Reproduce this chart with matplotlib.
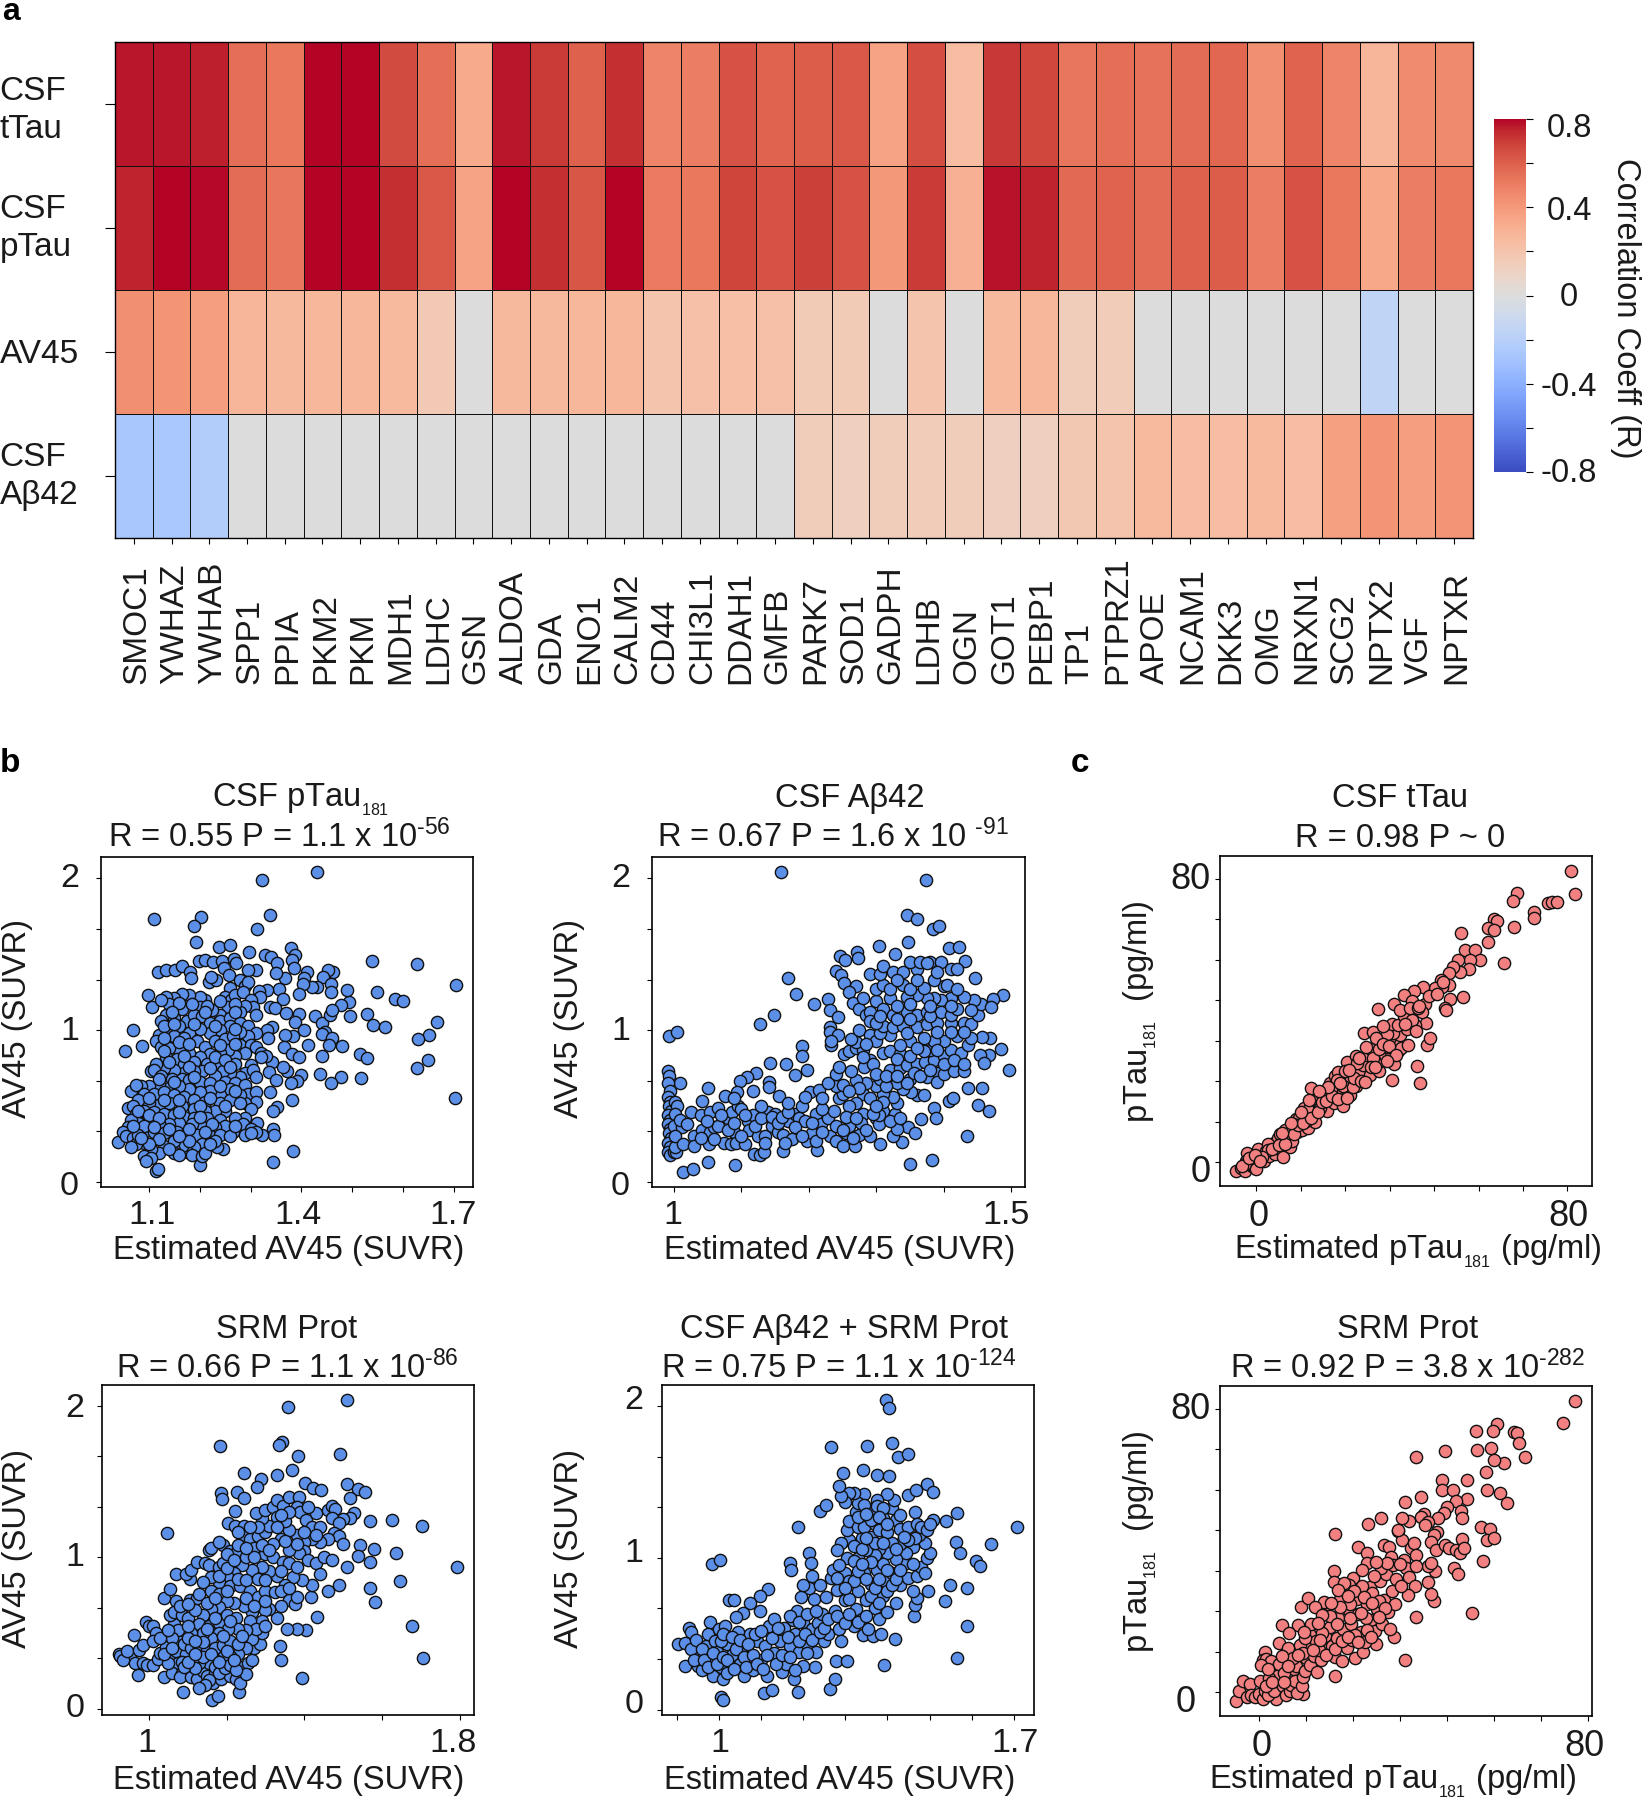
import matplotlib
matplotlib.use("Agg")
import matplotlib.pyplot as plt
from matplotlib.transforms import ScaledTranslation
import numpy as np

plt.rcParams['font.family'] = ['Liberation Sans', 'DejaVu Sans']
plt.rcParams['mathtext.fontset'] = 'custom'
plt.rcParams['mathtext.rm'] = 'Liberation Sans'
plt.rcParams['mathtext.default'] = 'regular'
plt.rcParams['text.color'] = '#1a1a1a'
plt.rcParams['axes.labelcolor'] = '#1a1a1a'

W, H = 1643, 1800

# heatmap
genes = ["SMOC1","YWHAZ","YWHAB","SPP1","PPIA","PKM2","PKM","MDH1","LDHC","GSN","ALDOA","GDA","ENO1","CALM2",
         "CD44","CHI3L1","DDAH1","GMFB","PARK7","SOD1","GADPH","LDHB","OGN","GOT1","PEBP1","TP1","PTPRZ1",
         "APOE","NCAM1","DKK3","OMG","NRXN1","SCG2","NPTX2","VGF","NPTXR"]
rows = ["CSF\ntTau", "CSF\npTau", "AV45", "CSF\nAβ42"]
r_ttau = [.77,.77,.76,.55,.52,.8,.8,.66,.55,.33,.77,.7,.6,.73,.48,.5,.64,.59,.61,.62,.36,.65,.24,.71,.67,.53,.55,.54,.56,.58,.44,.59,.48,.28,.45,.46]
r_ptau = [.75,.8,.79,.56,.53,.8,.8,.73,.62,.36,.8,.73,.63,.8,.51,.52,.68,.64,.69,.64,.4,.7,.3,.78,.75,.57,.59,.56,.6,.61,.5,.64,.52,.34,.5,.52]
r_av45 = [.44,.42,.38,.28,.26,.27,.27,.25,.17,0,.26,.26,.27,.27,.2,.22,.23,.22,.16,.16,0,.2,0,.25,.27,.14,.15,0,0,0,0,0,0,-.16,0,0]
r_ab42 = [-.27,-.26,-.22,0,0,0,0,0,0,0,0,0,0,0,0,0,0,0,.14,.13,.14,.15,.14,.13,.13,.18,.2,.25,.24,.24,.25,.24,.37,.42,.38,.42]

# scatter b, CSF pTau181: x estimated AV45, y AV45
pts_ptau = [(1.43,2.04),(1.322,1.99),(1.111,1.735),(1.203,1.743),(1.19,1.684),(1.339,1.759),(1.312,1.669),(1.192,1.581),(1.238,1.546),(1.259,1.559),(1.296,1.513),(1.38,1.542),(1.388,1.493),(1.329,1.493),(1.341,1.482),(1.382,1.46),(1.386,1.408),(1.352,1.439),(1.538,1.458),(1.627,1.436),(1.703,1.296),(1.549,1.248),(1.584,1.202),(1.599,1.193),(1.528,1.105),(1.54,1.035),(1.564,1.018),(1.665,1.055),(1.651,.965),(1.629,.943),(1.649,.803),(1.626,.748),(1.701,.55),(1.514,.846),(1.529,.818),(1.516,.682),(1.478,.689),(1.457,.649),(1.437,.711),(1.479,.895),(1.496,1.096),(1.494,1.184),(1.489,1.263),(1.477,1.164),(1.461,1.384),(1.452,1.399),(1.443,1.351),(1.458,1.307),(1.458,1.252),(1.43,1.281),(1.42,1.285),(1.41,1.382),(1.405,1.346),(1.403,1.303),(1.395,1.241),(1.367,1.344),(1.349,1.373),(1.31,1.399),(1.295,1.395),(1.355,1.27),(1.332,1.263),(1.316,1.257),(1.319,1.215),(1.363,1.208),(1.339,1.154),(1.348,1.143),(1.37,1.11),(1.395,1.103),(1.388,1.055),(1.427,1.092),(1.44,1.044),(1.455,1.099),(1.46,1.132),(1.404,1.0),(1.446,.989),(1.441,.974),(1.459,.945),(1.453,.901),(1.412,.901),(1.384,.961),(1.368,.967),(1.343,1.022),(1.332,1.0),(1.334,.945),(1.365,.89),(1.381,.846),(1.396,.82),(1.44,.829),(1.399,.704),(1.392,.664),(1.379,.649),(1.371,.732),(1.363,.759),(1.342,.792),(1.337,.726),(1.35,.671),(1.339,.594),(1.382,.537),(1.352,.496),(1.345,.469),(1.345,.346),(1.347,.309),(1.384,.206),(1.345,.129),(1.322,.309),(1.312,.386),
 (1.099,1.23),(1.107,1.154),(1.069,1.004),(1.054,.864),(1.086,.897),(1.039,.263),(1.118,1.386),(1.134,1.399),(1.151,1.395),(1.165,1.423),(1.182,1.384),(1.183,1.34),(1.199,1.456),(1.211,1.46),(1.227,1.45),(1.244,1.454),(1.267,1.471),(1.272,1.445),(1.248,1.412),(1.257,1.362),(1.218,1.318),(1.233,1.329),(1.222,1.351),
 (1.28,1.33),(1.29,1.29),(1.295,1.32),(1.26,1.28),(1.25,1.22),(1.262,1.2),(1.27,1.23),(1.285,1.25),(1.3,1.2),(1.305,1.15),(1.31,1.1),(1.29,1.16),(1.28,1.12),(1.255,1.15),(1.24,1.1),(1.225,1.13),(1.21,1.2),(1.2,1.22),(1.2,1.15),(1.18,1.23),(1.165,1.235),(1.15,1.21),(1.135,1.22),(1.14,1.17),(1.165,1.14),(1.135,1.1),(1.15,1.08),(1.125,1.06),(1.175,1.06),(1.19,1.1),(1.205,1.09),(1.22,1.05),(1.24,1.06),(1.26,1.08),(1.28,1.05),(1.295,1.03),(1.31,.98),(1.295,.96),(1.28,.99),(1.26,1.03),(1.24,1.0),(1.22,.98),(1.2,1.01),(1.18,.98),(1.16,1.03),(1.14,1.01),(1.12,.97),(1.115,.93),(1.125,.89),(1.15,.96),(1.17,.95),(1.195,.93),(1.21,.89),(1.23,.93),(1.25,.94),(1.265,.96),(1.28,.9),(1.3,.9),(1.31,.89),(1.32,.85),(1.33,.83),(1.32,.82),(1.29,.85),(1.27,.83),(1.255,.87),(1.24,.85),(1.22,.84),(1.2,.82),(1.18,.85),(1.16,.87),(1.14,.88),(1.135,.82),(1.155,.81),(1.17,.78),(1.19,.79),(1.215,.78),(1.24,.78),(1.27,.78),(1.3,.77),(1.29,.72),(1.305,.74),(1.31,.69),(1.28,.69),(1.26,.72),(1.245,.73),(1.23,.7),(1.205,.73),(1.19,.73),(1.17,.72),(1.15,.74),(1.13,.75),(1.115,.78),(1.105,.73),(1.11,.74),(1.125,.7),(1.145,.68),(1.165,.68),(1.18,.67),(1.2,.66),(1.22,.65),(1.25,.66),(1.27,.65),(1.29,.64),(1.295,.58),(1.31,.59),(1.31,.53),(1.29,.52),(1.28,.57),(1.26,.61),(1.24,.57),(1.22,.6),(1.2,.59),(1.18,.61),(1.16,.63),(1.14,.62),(1.12,.64),(1.1,.63),(1.085,.63),(1.065,.6),(1.075,.64),(1.09,.58),(1.11,.58),(1.13,.59),(1.15,.57),(1.17,.56),(1.19,.54),(1.21,.53),(1.24,.52),(1.26,.54),(1.28,.52),(1.3,.48),(1.29,.42),(1.25,.47),(1.23,.47),(1.21,.47),(1.19,.48),(1.165,.5),(1.14,.52),(1.12,.51),(1.1,.52),(1.08,.54),(1.06,.49),(1.07,.5),(1.075,.45),(1.09,.47),(1.11,.46),(1.13,.45),(1.15,.44),(1.17,.43),(1.19,.42),(1.215,.42),(1.24,.41),(1.27,.42),(1.285,.38),(1.3,.35),(1.265,.33),(1.25,.37),(1.23,.36),(1.205,.36),(1.185,.38),(1.16,.39),(1.14,.38),(1.12,.39),(1.1,.41),(1.08,.39),(1.065,.41),(1.06,.36),(1.075,.35),(1.05,.33),(1.055,.3),(1.07,.29),(1.09,.33),(1.11,.33),(1.13,.32),(1.155,.33),(1.175,.32),(1.195,.31),(1.22,.3),(1.24,.31),(1.26,.3),(1.29,.31),(1.31,.33),(1.3,.32),(1.245,.22),(1.235,.23),(1.23,.27),(1.205,.25),(1.19,.23),(1.175,.2),(1.165,.24),(1.15,.21),(1.13,.24),(1.12,.19),(1.105,.22),(1.09,.26),(1.075,.25),(1.065,.23),(1.09,.17),(1.105,.16),(1.115,.07),(1.118,.085),(1.095,.14),(1.15,.19),(1.16,.18),(1.185,.18),(1.2,.11),(1.205,.17),(1.21,.19),
 (1.125,1.2),(1.16,1.18),(1.185,1.17),(1.215,1.16),(1.24,1.19),(1.27,1.17),(1.145,1.12),(1.21,1.12),(1.27,1.12),(1.13,1.03),(1.15,1.04),(1.19,1.04),(1.23,1.03),(1.27,1.01),(1.13,.95),(1.16,.92),(1.18,.91),(1.24,.9),(1.27,.91),(1.13,.86),(1.17,.83),(1.23,.82),(1.25,.8),(1.12,.68),(1.14,.79),(1.18,.76),(1.22,.75),(1.26,.76),(1.15,.66),(1.19,.69),(1.24,.63),(1.27,.6),(1.13,.54),(1.16,.54),(1.2,.5),(1.22,.55),(1.25,.5),(1.1,.55),(1.08,.47),(1.1,.44),(1.12,.42),(1.16,.46),(1.2,.43),(1.225,.38),(1.27,.37),(1.09,.37),(1.11,.36),(1.14,.35),(1.18,.35),(1.21,.33),(1.08,.31),(1.12,.28),(1.15,.27),(1.18,.27),(1.22,.25),(1.1,.25),(1.14,.22),(1.07,.37),(1.085,.29),(1.16,.3)]

# scatter b, CSF Ab42
pts_ab42 = [(1.159,2.04),(1.373,1.99),(1.345,1.757),(1.36,1.735),(1.384,1.669),(1.392,1.684),(1.347,1.581),(1.304,1.557),(1.407,1.542),(1.422,1.546),(1.271,1.515),(1.273,1.478),(1.246,1.491),(1.253,1.46),(1.328,1.498),(1.431,1.456),(1.17,1.346),(1.181,1.241),(1.208,1.175),(1.229,1.208),(1.149,1.099),(1.128,1.039),(.993,.961),(1.005,.989),(1.231,1.132),(1.243,1.088),(1.231,1.02),(1.231,.99),(1.243,.97),(1.233,.9),(1.233,.93),(1.487,1.23),(1.473,1.208),(1.496,.737),(1.485,.879),(1.468,.945),(1.456,.956),(1.467,.836),(1.454,.836),(1.459,.785),(1.446,1.34),(1.456,.616),(1.436,.616),(1.451,.507),(1.467,.469),(1.434,.303),(1.382,.145),(1.35,.116),(1.347,.364),(1.357,.32),(1.338,.265),(1.366,.412),(1.386,.485),(1.388,.419),(1.407,.535),(1.413,.55),(1.36,.57),(1.37,.57),(1.352,.59),
 (1.014,.064),(1.028,.086),(1.051,.129),(1.091,.114),(1.119,.184),(1.128,.18),(1.134,.197),(1.162,.206),(1.212,.21),(1.142,.785),(1.167,.776),(1.19,.895),(1.19,.829),(1.197,.737),(1.179,.704),(1.122,.715),(1.109,.693),(1.098,.664),(1.141,.66),(1.141,.627),(1.051,.616),(1.009,.654),(1.042,.535),(1.076,.566),(1.094,.594),(1.117,.599),(1.156,.566),(1.202,.594),(1.215,.605),
 (.992,.73),(.993,.7),(.992,.65),(.994,.6),(.992,.56),(.995,.53),(.993,.5),(.996,.47),(.992,.44),(.994,.41),(.992,.38),(.995,.35),(.993,.32),(.996,.29),(.992,.26),(.995,.23),(.992,.2),(.995,.175),(1.0,.2),(1.003,.2),(1.002,.23),(1.002,.53),(1.005,.5),(1.002,.45),(1.0,.37),(1.012,.36),(1.002,.3),(1.014,.25),(1.03,.3),(1.026,.46),(1.04,.44),(1.054,.46),(1.042,.34),(1.054,.33),(1.052,.25),(1.06,.36),(1.065,.37),(1.05,.4),(1.066,.49),(1.075,.26),(1.085,.25),(1.08,.42),(1.086,.46),(1.09,.33),(1.092,.26),(1.095,.5),(1.1,.48),(1.105,.25),(1.11,.4),(1.112,.34),(1.118,.44),(1.125,.3),(1.135,.3),(1.14,.46),(1.145,.37),(1.15,.45),(1.155,.33),(1.162,.31),(1.17,.4),(1.175,.28),(1.18,.45),(1.185,.42),(1.19,.5),(1.198,.27),(1.195,.4),(1.205,.32),(1.21,.45),(1.218,.38),(1.228,.42),(1.232,.3),(1.24,.27),(1.25,.24),(1.238,.47),(1.245,.55),(1.255,.32),(1.26,.37),(1.268,.24),(1.275,.31),(1.28,.45),(1.278,.39),(1.29,.3),(1.3,.42),(1.304,.38),(1.306,.25),(1.31,.47),(1.325,.3),(1.33,.35),(1.328,.45),(1.33,.52),(1.34,.61),(1.325,.56),(1.31,.58),(1.31,.53),(1.304,.44),(1.28,.58),(1.29,.55),(1.27,.52),(1.26,.5),(1.25,.58),(1.24,.63),(1.228,.65),(1.25,.64),(1.3,.63),(1.305,.68),(1.285,.65),(1.27,.67),(1.262,.73),(1.24,.71),(1.245,.76),(1.252,.84),(1.26,.86),(1.27,.88),(1.28,.87),(1.27,.92),(1.262,.94),(1.275,1.0),(1.29,.97),(1.3,.93),(1.29,.8),(1.282,.76),(1.295,.78),(1.32,.74),(1.335,.75),(1.31,.85),(1.32,.86),(1.335,.84),(1.33,.81),(1.345,.77),(1.36,.78),(1.372,.79),(1.385,.8),(1.39,.72),(1.375,.69),(1.35,.68),(1.355,.72),(1.33,.65),(1.345,.65),(1.39,.66),(1.4,.71),(1.415,.73),(1.43,.73),(1.4,.83),(1.38,.87),(1.37,.86),(1.41,.87),(1.425,.85),(1.435,.9),(1.44,.95),(1.42,.96),(1.4,.93),(1.385,.93),(1.37,.95),(1.35,.93),(1.335,.9),(1.32,.97),(1.305,.98),(1.31,1.03),(1.325,1.02),(1.34,1.03),(1.36,1.02),(1.375,1.04),(1.39,1.05),(1.41,1.05),(1.43,1.05),(1.44,1.04),(1.45,1.1),(1.455,1.17),(1.47,1.15),(1.445,1.2),(1.43,1.22),(1.41,1.21),(1.395,1.2),(1.385,1.21),(1.375,1.21),(1.36,1.23),(1.345,1.22),(1.32,1.21),(1.3,1.19),(1.31,1.14),(1.325,1.1),(1.345,1.12),(1.36,1.1),(1.375,1.12),(1.395,1.12),(1.41,1.1),(1.3,1.27),(1.31,1.3),(1.34,1.3),(1.35,1.27),(1.37,1.28),(1.4,1.29),(1.405,1.3),(1.29,1.37),(1.305,1.37),(1.31,1.42),(1.325,1.38),(1.34,1.38),(1.36,1.4),(1.38,1.45),(1.395,1.45),(1.41,1.4),(1.42,1.4),(1.35,1.45),(1.365,1.45),(1.375,1.44),(1.24,1.39),(1.248,1.36),(1.252,1.31),(1.27,1.29),(1.26,1.25),(1.265,1.18),(1.275,1.14),(1.285,1.1),(1.29,1.12),
 (1.01,.41),(1.02,.38),(1.03,.24),(1.04,.29),(1.06,.28),(1.07,.44),(1.08,.34),(1.09,.39),(1.1,.3),(1.105,.44),(1.12,.37),(1.13,.42),(1.135,.26),(1.145,.43),(1.155,.39),(1.16,.43),(1.165,.26),(1.17,.46),(1.18,.36),(1.19,.3),(1.205,.39),(1.21,.27),(1.22,.48),(1.22,.33),(1.24,.37),(1.25,.34),(1.255,.43),(1.265,.29),(1.27,.42),(1.285,.34),(1.295,.45),(1.3,.5),(1.32,.4),(1.335,.42),(1.315,.63),(1.275,.62),(1.26,.6),(1.3,.71),(1.315,.7),(1.33,.7),(1.365,.7),(1.38,.74),(1.4,.78),(1.35,.83),(1.36,.88),(1.39,.87),(1.415,.8),(1.43,.78),(1.345,.98),(1.39,.99),(1.41,.99),(1.43,.99),(1.33,1.07),(1.35,1.07),(1.38,1.09),(1.42,1.14),(1.44,1.13),(1.33,1.16),(1.35,1.17),(1.38,1.16),(1.41,1.16),(1.32,1.27),(1.33,1.33),(1.36,1.33),(1.385,1.33),(1.42,1.27),(1.28,1.21),(1.29,1.06),(1.3,1.05),(1.305,1.09),(1.39,1.38),(1.285,.91),(1.28,.82),(1.22,.55),(1.195,.56),(1.17,.52),(1.13,.5),(1.09,.55)]

# scatter b, SRM Prot
pts_srm = [(1.509,2.04),(1.359,1.99),(1.184,1.734),(1.342,1.763),(1.335,1.741),(1.383,1.668),(1.491,1.68),(1.369,1.576),(1.246,1.554),(1.329,1.543),(1.289,1.515),(1.278,1.467),(1.402,1.488),(1.423,1.456),(1.443,1.445),(1.509,1.482),(1.538,1.451),(1.556,1.434),(1.517,1.394),(1.527,1.295),(1.517,1.258),(1.5,1.254),(1.568,1.24),(1.625,1.245),(1.703,1.207),(1.047,1.164),(1.544,1.082),(1.58,1.054),(1.636,1.032),(1.568,.973),(1.509,.94),(1.792,.94),(1.538,1.012),(1.646,.845),(1.57,.799),(1.582,.709),(1.489,.819),(1.46,.779),(1.417,.742),(1.433,.61),(1.677,.549),(1.706,.338),(1.403,.522),(1.38,.529),(1.356,.527),(1.338,.417),(1.34,.325),(1.395,.204),
 (.923,.364),(.953,.342),(.962,.49),(.994,.577),(.973,.226),(1.04,.209),(1.087,.11),(1.163,.061),(1.179,.083),(1.231,.11),(1.185,1.423),(1.188,1.383),(1.226,1.434),(1.246,1.39),(1.221,1.308),(1.203,1.225),(1.222,1.205),(1.245,1.21),
 (.925,.35),(.935,.32),(.945,.38),(.965,.3),(.975,.39),(.985,.42),(.985,.3),(1.0,.55),(1.01,.55),(1.02,.5),(1.01,.45),(.995,.29),(1.01,.29),(1.025,.33),(1.03,.37),(1.045,.41),(1.055,.34),(1.07,.38),(1.075,.3),(1.06,.24),(1.085,.24),(1.1,.26),(1.08,.21),(1.11,.21),(1.125,.2),(1.14,.25),(1.15,.22),(1.165,.17),(1.17,.24),(1.185,.2),(1.2,.28),(1.21,.22),(1.225,.2),(1.24,.28),(1.255,.3),(1.265,.32),(1.235,.17),(1.25,.23),(1.27,.4),(1.285,.43),(1.29,.5),(1.265,.46),(1.25,.4),(1.23,.36),(1.21,.35),(1.19,.34),(1.17,.32),(1.155,.3),(1.13,.3),(1.115,.33),(1.095,.36),(1.085,.31),(1.075,.45),(1.065,.56),(1.055,.62),(1.04,.73),(1.055,.79),(1.07,.71),(1.065,.64),(1.085,.62),(1.1,.6),(1.105,.72),(1.125,.73),(1.13,.76),(1.105,.86),(1.07,.89),(1.095,.89),(1.11,.92),(1.125,.97),(1.145,.96),(1.155,.95),(1.18,.94),(1.19,.96),(1.155,1.05),(1.16,1.06),(1.19,1.08),(1.21,1.04),(1.225,1.03),(1.18,1.1),(1.2,1.02),(1.24,1.15),(1.23,1.17),(1.26,1.12),(1.27,1.06),(1.28,1.14),(1.3,1.17),(1.31,1.21),(1.29,1.26),(1.275,1.29),(1.3,1.31),(1.32,1.33),(1.33,1.38),(1.345,1.34),(1.36,1.4),(1.385,1.4),(1.38,1.33),(1.39,1.3),(1.405,1.25),(1.42,1.2),(1.44,1.2),(1.43,1.29),(1.46,1.31),(1.47,1.34),(1.48,1.32),(1.47,1.26),(1.49,1.23),(1.475,1.16),(1.49,1.14),(1.5,1.09),(1.46,1.12),(1.44,1.1),(1.42,1.12),(1.4,1.1),(1.4,1.04),(1.38,1.15),(1.36,1.18),(1.35,1.24),(1.33,1.27),(1.34,1.12),(1.32,1.09),(1.3,1.02),(1.32,1.0),(1.345,.97),(1.36,.96),(1.385,1.03),(1.41,.98),(1.43,.96),(1.45,1.0),(1.47,.98),(1.44,.89),(1.42,.82),(1.395,.85),(1.37,.87),(1.35,.82),(1.33,.88),(1.31,.91),(1.29,.94),(1.265,.92),(1.24,.95),(1.22,.9),(1.2,.88),(1.18,.84),(1.16,.87),(1.14,.84),(1.16,.78),(1.18,.76),(1.21,.81),(1.235,.81),(1.26,.78),(1.28,.74),(1.3,.78),(1.325,.77),(1.36,.72),(1.375,.69),(1.38,.74),(1.34,.68),(1.31,.66),(1.3,.65),(1.29,.58),(1.265,.64),(1.245,.68),(1.22,.7),(1.2,.71),(1.18,.67),(1.16,.66),(1.14,.62),(1.12,.65),(1.13,.56),(1.155,.55),(1.18,.57),(1.2,.62),(1.225,.6),(1.26,.58),(1.275,.53),(1.3,.55),(1.33,.6),(1.25,.52),(1.23,.53),(1.205,.53),(1.18,.5),(1.16,.47),(1.14,.5),(1.11,.5),(1.09,.52),(1.075,.52),(1.06,.47),(1.09,.43),(1.11,.4),(1.13,.41),(1.15,.39),(1.17,.4),(1.19,.42),(1.21,.45),(1.23,.43),(1.12,.27),(1.14,.34),(1.17,.28),(1.18,.24),(1.195,.27),(1.155,.19),(1.145,.16),(1.13,.14),(1.21,.29),(1.225,.26),
 (1.05,.3),(1.04,.36),(1.06,.4),(1.03,.47),(1.05,.52),(1.09,.28),(1.1,.31),(1.12,.36),(1.14,.44),(1.16,.36),(1.18,.31),(1.2,.38),(1.22,.32),(1.1,.47),(1.12,.45),(1.15,.53),(1.17,.6),(1.19,.48),(1.21,.58),(1.24,.48),(1.1,.55),(1.08,.68),(1.1,.69),(1.15,.7),(1.17,.73),(1.2,.78),(1.25,.73),(1.27,.68),(1.3,.71),(1.18,.88),(1.23,.86),(1.25,.85),(1.28,.86),(1.3,.85),(1.34,.78),(1.36,.8),(1.2,.93),(1.22,.98),(1.25,1.0),(1.27,1.0),(1.34,.91),(1.38,.94),(1.23,1.08),(1.25,1.06),(1.29,1.08),(1.31,1.05),(1.36,1.05),(1.38,1.09),(1.28,1.2),(1.33,1.2),(1.35,1.11),(1.4,1.17),(1.43,1.15),(1.41,1.33),(1.36,1.3),(1.34,1.28),(1.26,1.2)]

# scatter b, CSF Ab42 + SRM Prot
pts_both = [(1.396,2.04),(1.405,1.989),(1.266,1.732),(1.351,1.739),(1.411,1.757),(1.426,1.667),(1.45,1.682),(1.343,1.579),(1.295,1.557),(1.375,1.546),(1.404,1.539),(1.493,1.485),(1.509,1.434),(1.448,1.414),(1.469,1.447),(1.239,1.307),(1.254,1.349),(1.189,1.206),(1.509,1.25),(1.539,1.243),(1.566,1.294),(1.707,1.206),(1.646,1.092),(1.562,1.101),(1.573,1.031),(1.611,.976),(1.619,.943),(1.549,.822),(1.589,.8),(1.536,.713),(1.589,.548),(1.565,.338),(1.393,.296),(1.418,.465),(1.463,.614),(1.466,.691),(1.471,.735),(1.497,.783),(.983,.958),(1.002,.987),(1.169,.965),(1.171,.921),(1.215,1.031),(1.219,.965),(1.117,.796),(1.098,.746),(1.024,.719),(1.036,.719),(1.074,.702),(1.098,.647),(1.058,.636),(1.04,.61),(.979,.577),(.93,.537),(.933,.509),(.904,.432),(.919,.289),(1.006,.083),(1.009,.061),(1.108,.11),(1.126,.132),(1.187,.114),(1.264,.138),(1.276,.204),(1.278,.318),(1.303,.318),(1.227,.281),(1.179,.202),(1.343,.493),(1.367,.482),(1.385,.5),
 (.92,.44),(.935,.4),(.945,.46),(.955,.35),(.95,.29),(.96,.26),(.97,.42),(.975,.5),(.98,.32),(.985,.22),(.99,.45),(1.0,.53),(.995,.38),(1.005,.28),(1.01,.2),(1.015,.55),(1.02,.43),(1.03,.36),(1.02,.24),(1.045,.51),(1.05,.3),(1.055,.41),(1.06,.22),(1.07,.35),(1.075,.5),(1.08,.26),(1.09,.45),(1.1,.33),(1.11,.42),(1.115,.22),(1.12,.55),(1.13,.37),(1.13,.6),(1.145,.45),(1.15,.25),(1.155,.54),(1.16,.3),(1.17,.42),(1.175,.59),(1.18,.5),(1.19,.38),(1.185,.65),(1.2,.29),(1.2,.58),(1.21,.43),(1.22,.53),(1.23,.38),(1.225,.73),(1.215,.8),(1.195,.74),(1.2,.82),(1.22,.88),(1.235,.57),(1.24,.82),(1.245,.63),(1.25,.45),(1.255,.74),(1.26,.5),(1.265,.87),(1.27,.92),(1.275,.65),(1.28,.79),(1.285,.53),(1.29,.45),(1.295,.6),(1.3,.72),(1.3,.9),(1.305,1.0),(1.31,.85),(1.32,.55),(1.325,.66),(1.33,.78),(1.34,.6),(1.345,.9),(1.35,.72),(1.355,.53),(1.36,.83),(1.37,.67),(1.375,.92),(1.38,.6),(1.39,.75),(1.395,.85),(1.4,.64),(1.41,.9),(1.42,.7),(1.43,.82),(1.44,.96),(1.45,.87),(1.46,.78),(1.47,.88),(1.48,.94),(1.49,.9),(1.495,1.0),(1.5,1.03),(1.49,1.1),(1.475,1.15),(1.46,1.07),(1.445,1.03),(1.43,1.09),(1.42,.99),(1.41,1.1),(1.4,1.03),(1.39,.96),(1.38,1.06),(1.37,1.02),(1.36,.97),(1.35,1.05),(1.34,1.13),(1.33,1.0),(1.32,.98),(1.31,1.12),(1.305,1.18),(1.29,1.1),(1.28,1.05),(1.285,.95),(1.31,1.24),(1.325,1.3),(1.33,1.2),(1.345,1.2),(1.36,1.14),(1.37,1.22),(1.38,1.18),(1.39,1.26),(1.4,1.17),(1.41,1.33),(1.42,1.25),(1.43,1.19),(1.45,1.2),(1.465,1.3),(1.47,1.22),(1.465,1.13),(1.48,1.2),(1.495,1.18),(1.5,1.22),(1.415,1.38),(1.4,1.42),(1.375,1.38),(1.36,1.32),(1.345,1.42),(1.33,1.36),(1.32,1.43),(1.31,1.43),(1.3,1.37),(1.29,1.41),(1.285,1.47),(1.375,1.34),(1.36,1.25),(1.345,1.35),
 (.94,.33),(.96,.4),(.965,.33),(.975,.28),(.985,.37),(.995,.3),(1.005,.45),(1.01,.35),(1.01,.5),(1.02,.33),(1.03,.48),(1.035,.27),(1.04,.4),(1.05,.46),(1.06,.35),(1.065,.28),(1.07,.43),(1.08,.36),(1.085,.5),(1.09,.3),(1.1,.52),(1.105,.27),(1.115,.36),(1.125,.47),(1.135,.3),(1.14,.54),(1.15,.36),(1.165,.48),(1.17,.35),(1.18,.26),(1.19,.45),(1.205,.5),(1.21,.37),(1.22,.46),(1.24,.51),(1.25,.54),(1.17,.62),(1.19,.58),(1.21,.63),(1.23,.65),(1.26,.6),(1.28,.62),(1.3,.57),(1.31,.63),(1.31,.73),(1.33,.58),(1.35,.62),(1.36,.75),(1.38,.7),(1.4,.78),(1.41,.82),(1.42,.86),(1.32,.85),(1.33,.91),(1.35,.86),(1.37,.8),(1.38,.86),(1.4,.92),(1.43,.92),(1.46,.96),(1.28,.87),(1.3,.8),(1.34,.96),(1.37,1.1),(1.39,1.1),(1.42,1.06),(1.45,1.12),(1.32,1.08),(1.34,1.06),(1.33,1.27),(1.35,1.29),(1.39,1.33),(1.43,1.28),(1.38,1.27),(1.4,1.22),(1.35,1.13),(1.44,1.14)]

# scatter c, CSF tTau
pts_ttau = [(80.8,82.2),(81.9,75.6),(66.9,76),(66.1,73.6),(75.1,73.2),(76.1,73.5),(77.2,73.3),(71.3,70.6),(71.5,69),(66.2,66.4),(61.2,68.6),(61.8,68.1),(59.6,66.2),(61.2,65.5),(52.7,64.8),(59.5,62.2),(53.7,59.8),(56.2,59.8),(63.6,56.2),(57.4,57),(54.9,57),(51.8,57),(54.8,54.4),(52.4,53.6),(50.5,55.2),(49.6,53.3),(47.4,51.4),(49.6,50),(47.8,49.5),(45.9,49.3),(42.9,49.5),(53.2,46.5),(49.8,46.1),(48.4,43.6),(48.7,43),(40.5,48.3),(38,47.2),(40.1,45.6),(43.4,44.8),(31.4,43.2),(35.4,44.7),(27.6,36.6),(30,36.9),(34.8,23.1),(42,22.3),(41.4,27.3),(35.4,27.7),(44,33.1),(44.7,35),(43.6,39.4),(42.5,42.3),(39.6,40.8),(40.9,38.7),
 (-5.2,-2.4),(-4,-1.7),(-2.8,-2.5),(-2.5,2.7),(-2.6,.3),(-1.2,-1),(-.5,-1.4),(.3,.7),(1.2,2.2),(.5,3.9),(2,.5),(2.5,3.2),(3.2,1.7),(3.3,4.6),(4.5,5.6),(4.7,2.3),(5.3,4.2),(5.5,7),(6.4,3.5),(6.6,6.4),(6.8,1.6),(8,6.8),(8.2,9.1),(8.6,4.3),(9.2,6.1),(7.7,8),(10.2,12.1),(10.4,8.5),(11.4,10.5),(12.5,13),(11.7,9),(13.3,9.8),(13.6,13.5),(12.3,15.3),(14.7,16.8),(14.1,14.5),(15.2,11.3),(16,17.3),(17.4,15),(15.2,18.6),(16.8,19.2),(18.2,14.4),(18.6,18.9),(14.1,21),(19,22.3),(20.6,20.8),(20,16.7),(22.3,16),(21.6,19.1),(23.2,20.5),(24.2,19),(22.8,23.3),(20.2,24.3),(20.9,25.5),(25.7,21.6),(27.6,24),(28.4,27.1),(26.4,25.1),(24.2,27.8),(23.3,28.3),(25.6,30),(27.5,27.4),(29.2,24.7),(28.5,30.2),(31.5,25.7),(31.2,28.3),(32.3,30.8),(33.2,30.2),(29.4,32),(34.6,31.2),(36.5,31.3),(36,33.8),(34,34.8),(37,35.8),(37.2,32.2),(39,33.2),(38.7,37.7),(35.2,36.6),(33.5,36.2),(34.9,39.1),(32.7,38.4),(36.4,38.8),(38,41.2),(40,40.2),(41,37),(24.2,23),(22.4,21.5),(19.3,20.4),(17.5,19.1),(13.2,14.8),(11,12.6),(9.5,10.9),(6.1,8),(7.3,9.2),(2.9,5.3),(-1,.6),(-3,-.4),(0,-2),(3,3.4),(1.4,1.5),(12.9,11.6),(16.5,15.3),(20.7,23.1),(22.7,25.9),(26,28),(30,29.4),(33.8,32.6),
 (-3.6,-.9),(-1.8,1.2),(-.3,2.1),(1,.4),(4,3.9),(5.9,5),(7.5,5.3),(9.7,8),(10.8,10.6),(12.1,11),(14,12.5),(15.8,14.2),(17,16.9),(18,17.2),(19.5,18.7),(21,17.9),(23.3,18.1),(24.8,21.3),(25,23.9),(26.8,22.9),(28,22.7),(29.4,27),(30.5,26.9),(21.5,22.5),(18.5,21.3),(16.1,20.1),(13.5,17.6),(11.5,14.1),(8.9,11.2),(6.7,8.3),(23.8,26.1),(26.4,29.4),(28.2,32.4),(31.5,32.1),(30.7,35),(32.5,33.5),(34.2,32.9),(35.8,30.2),(33.5,28.5),(38.1,38.9),(37,43),(39.5,43.4),(41.5,43.5),(41.9,44),(44.5,47),(46.5,47.6),(48,50.9)]

# scatter c, SRM Prot
pts_srm_tau = [(76.7,82.2),(73.8,76),(57.9,75.6),(56.7,73.6),(52.7,73.7),(62,73.5),(62.6,73.2),(63.2,70.4),(64.5,66.4),(59.6,64.8),(56.3,69),(53,68.3),(57.1,65.5),(55.2,62.2),(55.4,57.2),(58.6,56.1),(60.2,53.5),(50.5,59.8),(50.5,54.4),(45.2,68),(38.2,66.4),(44.3,59.8),(44.5,57.2),(47.2,57),(47.9,54),(49.1,51.2),(49.2,49.3),(45.6,52.3),(44.9,50.7),(43.5,49.3),(39.2,55),(35.4,53.8),(40.1,50.2),(39.3,49.5),(41.1,48.1),(40.3,47.2),(36.5,48.3),(34.6,49.3),(29.6,49.1),(26.5,47.4),(18.3,44.8),(33.7,45.6),(43.2,45.3),(42.4,44.4),(41.7,42.5),(43,40.2),(45.1,41.6),(46,40.6),(47.9,40.2),(48.7,39.2),(49.3,43.2),(49.7,40.6),(53.9,46.5),(56,46.1),(55.4,43),(57.1,43.5),(54.5,37.1),(47.4,35.2),(48.4,33.3),(51.6,22.3),(38.1,21.2),(42.4,25.9),(41.8,27.8),(41,31.2),(42.6,34.1),(41.1,35.5),(41.8,36.6),(35.5,9),(32.7,15.6),(28.3,13.7),(18.3,4.5),(24.1,41.1),(26.2,39.2),(26.2,36.4),(30.4,41.6),(31.5,41.1),(34.8,43),(33.6,45.8),(36.9,40.8),(37.6,42),(38.2,38.7),(32,38.3),(35.2,37.3),(35.7,35),(38,35.6),(36.5,32.5),(37.8,30),(36.1,27.5),(18.2,34.1),(18.2,31),(22.8,32.2),(21.8,30.3),(5.4,18.9),(4.8,13.9),(1.3,11.5),(10.2,24.2),(11.9,26.5),(9.3,19),(7.3,16.7),(-5.6,-2.5),(-4.9,.3),(-3.9,3.1),(-2.2,2.3),(.1,3.1),(4.1,-1.9),(10.7,-.4),
 (-3,-1.2),(-2,-.8),(-1,-1.4),(0,-.5),(.9,-1.8),(1.3,.4),(2.2,-.8),(3,1.2),(3.5,.5),(3.9,3.1),(.8,9.2),(1.7,9.5),(2.8,8.9),(3.2,6.2),(4.3,4.6),(4.8,8),(5.8,1.8),(6.5,-.7),(6.9,4.3),(7.5,.3),(7.8,2.2),(8.5,6.5),(8.6,3.3),(9,7.3),(9.2,-.1),(10.3,1.8),(10.7,4.4),(11.1,6.1),(11.3,9.7),(11.8,13),(12.2,7.6),(12.8,16.9),(13.2,10.3),(13.8,14.6),(14.1,5.8),(14.7,18.2),(15,9.2),(15.5,12.4),(16,16),(16.4,22.1),(16.8,24.8),(17.1,18.4),(17.7,13.2),(18.3,10),(18.8,15.4),(19.1,21),(19.7,26.3),(20.2,8.9),(20.4,17.8),(21.2,12.5),(21.7,23.2),(22.3,19.4),(22.5,14.7),(23.3,9.7),(23.8,26.2),(24.1,22),(24.6,17),(25.2,11.4),(25.8,14.3),(26.1,24.9),(26.8,29.6),(27.2,20.5),(27.5,28.1),(28.2,17.4),(28.7,23.6),(29.4,31.5),(29.9,19.3),(30.2,26.1),(30.8,33.5),(31.3,22.6),(31.8,17.8),(32.3,28.5),(33,24.9),(33.3,31.9),(32.5,35.8),(34.2,36.2),(34.5,30),(29.5,35.2),(24.9,30.1),(20.6,30.8),(15.8,25.5),(13.4,24),(19,28.9),(6.9,12.6),(9.8,13.4),(12.5,19.4),(8.2,9.7),(10.5,11.1),(17.2,21.4),(22,25),(27.8,32.9),(24.9,34.4),(31,36.5),(28.3,36.8),(2.4,4),(5.9,5.5),(1.7,1.7),(15.2,16.8),(18.9,19.3),(26,20.9),(29.2,25.8),(23.2,16.1),(14.4,11.9),
 (5.5,10.2),(7,7.5),(3,3),(6,3),(.5,7.7),(2.2,6.5),(9.5,10.5),(11,15.2),(13,12),(14.8,14.8),(16.2,10.6),(18.5,12.3),(20,14.4),(21.5,15.7),(19.5,24),(22,20.9),(24,14.2),(26.2,17.7),(27.1,15.7),(23,28.5),(25.4,26.9),(27.3,25.2),(30.6,23.9),(15.3,21.7),(17.5,25.3),(21.6,27.2),(24.8,22.5),(29,21.2),(14.2,19.6),(10.9,16.9)]

panels = [
    {"pts": pts_ptau, "box": (101, 857, 473, 1187), "xlim": (1.0065, 1.7366), "ylim": (-.033, 2.14),
     "xticks": [1.1,1.2,1.3,1.4,1.5,1.6,1.7], "xtl": {1.1:"1.1",1.4:"1.4",1.7:"1.7"}, "yt": "b", "col": "#5b8fe8",
     "xs": {1.1:3, 1.4:-3, 1.7:-1}, "ys": {2:-3, 1:-2, 0:1}, "pad": 12.5},
    {"pts": pts_ab42, "box": (652, 857, 1025, 1187), "xlim": (.968, 1.52), "ylim": (-.033, 2.14),
     "xticks": [1,1.1,1.2,1.3,1.4,1.5], "xtl": {1:"1",1.5:"1.5"}, "yt": "b", "col": "#5b8fe8",
     "xs": {1:-1, 1.5:-5}, "ys": {2:-3, 1:-2, 0:1}, "pad": 12.5},
    {"pts": pts_srm, "box": (102, 1385, 474, 1715), "xlim": (.88, 1.836), "ylim": (-.04, 2.138),
     "xticks": [1,1.2,1.4,1.6,1.8], "xtl": {1:"1",1.8:"1.8"}, "yt": "b", "col": "#5b8fe8",
     "xs": {1:-2, 1.8:-7}, "ys": {2:-1, 1:-3, 0:-4}, "pad": 9},
    {"pts": pts_both, "box": (662, 1385, 1034, 1715), "xlim": (.865, 1.748), "ylim": (-.035, 2.138),
     "xticks": [.9,1,1.1,1.2,1.3,1.4,1.5,1.6,1.7], "xtl": {1:"1",1.7:"1.7"}, "yt": "b", "col": "#5b8fe8",
     "xs": {1:1, 1.7:1}, "ys": {2:-9, 1:-8, 0:-9}, "pad": 10},
    {"pts": pts_ttau, "box": (1220, 856, 1592, 1186), "xlim": (-9.33, 86.3), "ylim": (-6.66, 86.4),
     "xticks": list(np.linspace(0, 80, 8)), "xtl": {0:"0",80:"80"}, "yt": "c", "col": "#f28080",
     "xs": {0:2, 80:1}, "ys": {80:-3, 0:6}, "pad": 3},
    {"pts": pts_srm_tau, "box": (1220, 1386, 1592, 1716), "xlim": (-9.59, 80.9), "ylim": (-6.66, 86.4),
     "xticks": list(np.linspace(0, 80, 8)), "xtl": {0:"0",80:"80"}, "yt": "c", "col": "#f28080",
     "xs": {0:2, 80:-4}, "ys": {80:-3, 0:6}, "y0dx": -15, "pad": 3},
]

# centre x, baseline y in pixels for the titles and axis labels
titles = [
    ("CSF pTau$_{{}_{181}}$", 301, 807), ("R = 0.55 P = 1.1 x 10$^{\\text{-56}}$", 279, 847),
    ("CSF Aβ42", 850, 807), ("R = 0.67 P = 1.6 x 10 $^{\\text{-91}}$", 833, 847),
    ("SRM Prot", 287, 1338), ("R = 0.66 P = 1.1 x 10$^{\\text{-86}}$", 287, 1378),
    ("CSF Aβ42 + SRM Prot", 844, 1338), ("R = 0.75 P = 1.1 x 10$^{\\text{-124}}$", 839, 1378),
    ("CSF tTau", 1400, 807), ("R = 0.98 P ~ 0", 1400, 847),
    ("SRM Prot", 1408, 1338), ("R = 0.92 P = 3.8 x 10$^{\\text{-282}}$", 1408, 1378),
]
xlabels = [
    ("Estimated AV45 (SUVR)", 289, 1259), ("Estimated AV45 (SUVR)", 840, 1259),
    ("Estimated AV45 (SUVR)", 289, 1789), ("Estimated AV45 (SUVR)", 840, 1789),
    ("Estimated pTau$_{{}_{181}}$ (pg/ml)", 1418, 1259), ("Estimated pTau$_{{}_{181}}$ (pg/ml)", 1393, 1789),
]
ylabels = [
    ("AV45 (SUVR)", 26, 1018), ("AV45 (SUVR)", 578, 1018),
    ("AV45 (SUVR)", 26, 1548), ("AV45 (SUVR)", 578, 1548),
    ("pTau$_{{}_{181}}$  (pg/ml)", 1148, 1012), ("pTau$_{{}_{181}}$  (pg/ml)", 1148, 1542),
]


def px_axes(left, top, right, bottom):
    return fig.add_axes([left / W, 1 - bottom / H, (right - left) / W, (bottom - top) / H])


def px_text(x, y, s, **kw):
    kw.setdefault("fontsize", 23.5)
    kw.setdefault("ha", "center")
    kw.setdefault("va", "baseline")
    fig.text(x / W, 1 - y / H, s, **kw)


def shift(label, dx, dy):
    # nudge a tick label by some pixels, the reference has them hand placed
    label.set_transform(label.get_transform() + ScaledTranslation(dx / 100, -dy / 100, fig.dpi_scale_trans))


fig = plt.figure(figsize=(W / 100, H / 100), dpi=100)

# a: heatmap
ax = px_axes(115, 42, 1473, 538)
vals = np.array([r_ttau, r_ptau, r_av45, r_ab42])
mesh = ax.pcolormesh(vals, cmap="coolwarm", vmin=-.8, vmax=.8, edgecolors="#111111", linewidth=.6)
ax.invert_yaxis()
ax.set_xticks(np.arange(len(genes)) + .5)
ax.set_xticklabels(genes, rotation=90, va="bottom", fontsize=24, color="#1a1a1a")
ax.tick_params(axis="x", length=4, width=.8, pad=101)
ax.set_yticks(np.arange(len(rows)) + .5)
ax.set_yticklabels(rows, ha="left", fontsize=24, color="#1a1a1a", linespacing=1.3)
ax.tick_params(axis="y", length=7, width=.8, pad=76)
for lab in ax.get_xticklabels():
    shift(lab, 3, 0)
for lab, dy in zip(ax.get_yticklabels(), [-1, -6.5, -1, -6.5]):
    shift(lab, 0, dy)
for s in ax.spines.values():
    s.set_linewidth(1)

cax = px_axes(1494, 119, 1526, 472)
cb = fig.colorbar(mesh, cax=cax)
cb.outline.set_visible(False)
cb.set_ticks([-.8, -.6, -.4, -.2, 0, .2, .4, .6, .8])
cb.set_ticklabels(["-0.8", "", "-0.4", "", "0", "", "0.4", "", "0.8"])
cax.tick_params(length=5, width=.8, pad=26, labelsize=23.5, labelcolor="#1a1a1a")
for lab, dy in zip(cax.get_yticklabels(), [-2, 0, 0, 0, -1, 0, 1, 0, 6]):
    lab.set_ha("center")
    shift(lab, 0, dy)
px_text(1617, 308, "Correlation Coeff (R)", rotation=270, rotation_mode="anchor")

# b, c: scatters
for p in panels:
    ax = px_axes(*p["box"])
    xs = [q[0] for q in p["pts"]]
    ys = [q[1] for q in p["pts"]]
    ax.scatter(xs, ys, s=78, c=p["col"], edgecolors="#111111", linewidths=1.0, zorder=3)
    ax.set_xlim(*p["xlim"])
    ax.set_ylim(*p["ylim"])
    ax.set_xticks(p["xticks"])
    size = 24.5 if p["yt"] == "b" else 26
    ax.set_xticklabels([p["xtl"].get(round(t, 2), "") for t in p["xticks"]], fontsize=size)
    if p["yt"] == "b":
        yt = list(np.linspace(0, 2, 7))
        ytl = {0: "0", 1: "1", 2: "2"}
    else:
        yt = list(np.linspace(0, 80, 8))
        ytl = {0: "0", 80: "80"}
    ax.set_yticks(yt)
    ax.set_yticklabels([ytl.get(round(t, 2), "") for t in yt], fontsize=size)
    ax.tick_params(axis="x", length=3.5, width=.8, pad=6, labelcolor="#1a1a1a")
    ax.tick_params(axis="y", length=3.5, width=.8, pad=p["pad"], labelcolor="#1a1a1a")
    for lab, t in zip(ax.get_xticklabels(), p["xticks"]):
        if round(t, 2) in p["xs"]:
            shift(lab, p["xs"][round(t, 2)], 0)
    for lab, t in zip(ax.get_yticklabels(), yt):
        if round(t, 2) in p["ys"]:
            dx = p.get("y0dx", 0) if round(t, 2) == 0 else 0
            shift(lab, dx, p["ys"][round(t, 2)])
    for s in ax.spines.values():
        s.set_linewidth(1.2)

for s, x, y in titles + xlabels:
    px_text(x, y, s)
for s, x, y in ylabels:
    px_text(x, y, s, rotation=90, rotation_mode="anchor")

px_text(2, 20, "a", fontsize=23, fontweight="bold", ha="left", color="black")
px_text(0, 772, "b", fontsize=24, fontweight="bold", ha="left", color="black")
px_text(1071, 772, "c", fontsize=24, fontweight="bold", ha="left", color="black")

fig.savefig("out.png", dpi=100)
